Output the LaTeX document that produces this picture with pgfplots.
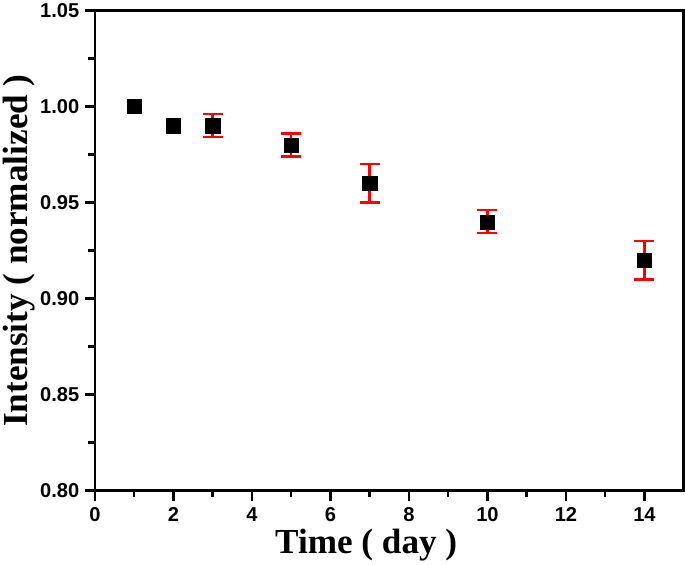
\documentclass[border=0pt]{standalone}
\usepackage{fontspec}
\setmainfont{Liberation Serif}
\setsansfont{Liberation Sans}
\usepackage{pgfplots}
\pgfplotsset{compat=1.18}
\begin{document}
\begin{tikzpicture}
\begin{axis}[
  scale only axis,
  width=586pt, height=478pt,
  xmin=0, xmax=15, ymin=0.80, ymax=1.05,
  xtick={0,2,...,14},
  ytick={0.80,0.85,...,1.05},
  minor x tick num=1, minor y tick num=1,
  tick pos=left, tick align=outside,
  major tick length=10pt, minor tick length=6.5pt,
  axis line style={line width=2.6pt},
  tick style={black, line width=2.4pt},
  /pgf/number format/assume math mode=true,
  ticklabel style={font=\fontsize{20}{20}\selectfont\sffamily\bfseries},
  xticklabel style={yshift=-3pt},
  yticklabel style={xshift=-2pt, /pgf/number format/.cd, fixed, fixed zerofill, precision=2},
  xlabel={Time ( day )},
  ylabel={Intensity ( normalized )},
  label style={font=\fontsize{35}{35}\selectfont\bfseries},
  xlabel style={xshift=-23pt, yshift=-1pt},
  ylabel style={yshift=-2pt},
  clip=false,
]
\addplot[draw=none, mark=none,
  error bars/.cd, y dir=both, y explicit,
  error bar style={red, line width=2.4pt},
  error mark options={red, mark size=10pt, line width=2.4pt, rotate=90}]
  table[x=x, y=y, y error=e] {
x y e
3 0.99 0.006
5 0.98 0.006
7 0.96 0.010
10 0.94 0.006
14 0.92 0.010
};
\addplot[only marks, mark=square*, mark size=7pt, black]
  table {
1 1.00
2 0.99
3 0.99
5 0.98
7 0.96
10 0.94
14 0.92
};
\end{axis}
\end{tikzpicture}
\end{document}
